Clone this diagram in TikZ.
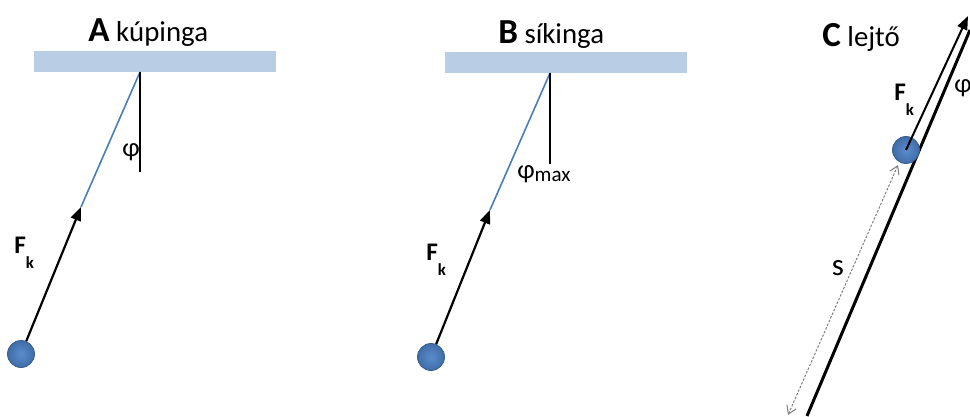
\documentclass[tikz,border=0pt]{standalone}
\usepackage{fontspec}
\setmainfont{Carlito}
\setsansfont{Carlito}
\usetikzlibrary{arrows.meta}
\definecolor{barblue}{HTML}{B9CDE5}
\definecolor{ropeblue}{HTML}{4A7EBB}
\definecolor{ballblue}{HTML}{3F6DA8}
\definecolor{ballhi}{HTML}{5B8CCB}
\definecolor{balledge}{HTML}{385D8A}
\definecolor{dimgrey}{HTML}{7F7F7F}
\newcommand{\Fk}{{\fontsize{18}{21}\selectfont\bfseries F\raisebox{-11pt}{\fontsize{12}{14}\selectfont k}}}
\newcommand{\Case}[1]{{\fontsize{25}{28}\selectfont\bfseries #1}}
\tikzset{
  every picture/.style={font=\fontsize{20.5}{24}\selectfont},
  bar/.style={fill=barblue, minimum width=60.5mm, minimum height=5.25mm, inner sep=0pt},
  ball/.style={circle, minimum size=6.75mm, inner sep=0pt, shading=radial, inner color=ballhi, outer color=ballblue, draw=balledge, line width=0.2mm},
  force/.style={-{Triangle[length=3.4mm, width=2.6mm]}, line width=0.55mm},
  rope/.style={draw=ropeblue, line width=0.4mm},
  tag/.style={inner sep=0pt, anchor=base west},
  greek/.style={tag, font=\fontsize{19}{22}\selectfont},
}

\begin{document}
\begin{tikzpicture}[x=0.25mm, y=0.25mm,
  plumb/.style={line width=0.5mm},
  slope/.style={line width=0.75mm},
  dim/.style={{Straight Barb[length=2mm, width=2.5mm]}-{Straight Barb[length=2mm, width=2.5mm]}, draw=dimgrey, line width=0.25mm, dash pattern=on 0.6mm off 0.4mm}]
  \useasboundingbox (0,0) rectangle (970,416);
  % A: kupinga
  \node[tag] (titleA) at (88,374) {\Case{A} kúpinga};
  \node[bar] (barA) at (155,354.5) {};
  \coordinate (pivA) at (140,344);
  \coordinate (plumbA) at (140,244);
  \coordinate (tipA) at (81,209);
  \node[ball] (ballA) at (21,62) {};
  \draw[rope] (pivA) -- (tipA);
  \draw[force] (ballA) -- (tipA);
  \draw[plumb] (pivA) -- (plumbA);
  \node[greek] (phiA) at (122,260) {φ};
  \node[tag] (fkA) at (14,163) {\Fk};
  % B: sikinga
  \node[tag] (titleB) at (498,373) {\Case{B} síkinga};
  \node[bar] (barB) at (565.5,353) {};
  \coordinate (pivB) at (550,343);
  \coordinate (plumbB) at (550,252);
  \coordinate (tipB) at (490,206);
  \node[ball] (ballB) at (431,59) {};
  \draw[rope] (pivB) -- (tipB);
  \draw[force] (ballB) -- (tipB);
  \draw[plumb] (pivB) -- (plumbB);
  \node[greek] (phiB) at (517,238) {φ\raisebox{-2.5pt}{\fontsize{15}{18}\selectfont max}};
  \node[tag] (fkB) at (426,156) {\Fk};
  % C: lejto
  \node[tag] (titleC) at (822,369) {\Case{C} lejtő};
  \coordinate (slopeLo) at (807,0);
  \coordinate (slopeHi) at (970,386);
  \draw[slope] (slopeLo) -- (slopeHi);
  \node[ball] (ballC) at (906,266) {};
  \coordinate (tipC) at (968,400);
  \draw[force, line width=0.5mm] (ballC.center) -- (tipC);
  \node[greek] (phiC) at (954,323) {φ};
  \node[tag] (fkC) at (894,316) {\Fk};
  \coordinate (dimHi) at (898,251);
  \coordinate (dimLo) at (788,1);
  \draw[dim] (dimLo) -- (dimHi);
  \node[font=\fontsize{22}{26}\selectfont] (sC) at (838,148) {s};
\end{tikzpicture}
\end{document}
